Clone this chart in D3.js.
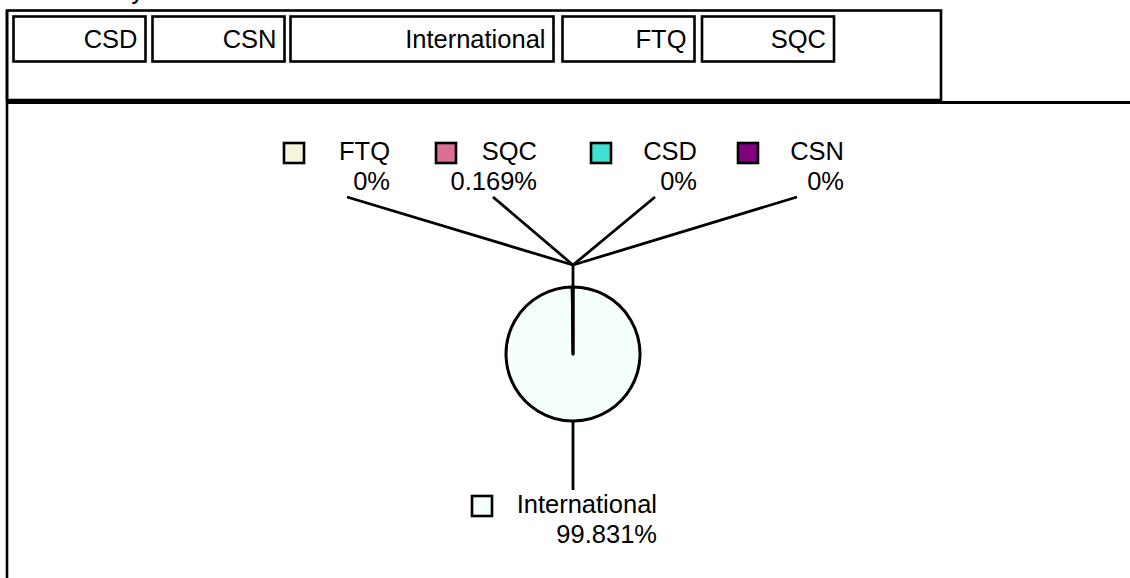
<!DOCTYPE html>
<html>
<head>
<meta charset="utf-8">
<script src="https://cdn.jsdelivr.net/npm/d3@7"></script>
<style>
  html, body { margin: 0; padding: 0; background: #fff; overflow: hidden; }
  svg { display: block; font-family: "Liberation Sans", Arial, sans-serif; }
</style>
</head>
<body>
<svg id="chart" width="1130" height="578"></svg>
<script>
// ---- data ----
const categories = ["CSD", "CSN", "International", "FTQ", "SQC"];
const values = [0, 0, 99.831, 0, 0.169];
const colors = ["#40E0D0", "#800080", "#F5FFFA", "#F5F5DC", "#DB7093"];
const percentLabels = ["0%", "0%", "99.831%", "0%", "0.169%"];
const titleText = "Summary";

// ---- layout ----
const svg = d3.select("#chart");
const W = 1130, H = 578;
const FS = 25.5;

// partial title (cut off at top, as in the reference)
svg.append("text").attr("x", 35).attr("y", -1)
  .attr("font-size", FS).attr("fill", "#000").text(titleText);

// outer legend box
svg.append("rect").attr("x", 7).attr("y", 10.5).attr("width", 934).attr("height", 89.5)
  .attr("fill", "none").attr("stroke", "#000").attr("stroke-width", 2.6);

// legend buttons
const btnWidths = { "International": 263 };
const btnX = d3.scaleOrdinal().domain(categories).range([13.5, 152.5, 290.5, 562.5, 702]);
const btns = svg.append("g").selectAll("g").data(categories).join("g")
  .attr("transform", d => `translate(${btnX(d)},16.5)`);
btns.append("rect").attr("width", d => btnWidths[d] || 132).attr("height", 45)
  .attr("fill", "#fff").attr("stroke", "#000").attr("stroke-width", 2.6);
btns.append("text").attr("x", d => (btnWidths[d] || 132) - 8).attr("y", 31.5)
  .attr("text-anchor", "end").attr("font-size", FS).attr("fill", "#000").text(d => d);

// chart panel lines
svg.append("line").attr("x1", 7).attr("x2", W).attr("y1", 102.5).attr("y2", 102.5)
  .attr("stroke", "#000").attr("stroke-width", 3);
svg.append("line").attr("x1", 7).attr("x2", 7).attr("y1", 10).attr("y2", H)
  .attr("stroke", "#000").attr("stroke-width", 2.6);

// pie
const cx = 573, cy = 354, r = 67;
const pie = d3.pie().sort(null).value(d => d.v);
const arcs = pie(categories.map((c, i) => ({ c, v: values[i], col: colors[i], lab: percentLabels[i] })));
const arc = d3.arc().innerRadius(0).outerRadius(r);
const pg = svg.append("g").attr("transform", `translate(${cx},${cy})`);
pg.selectAll("path").data(arcs.filter(a => a.data.v > 0)).join("path")
  .attr("d", arc).attr("fill", d => d.data.col)
  .attr("stroke", "#000").attr("stroke-width", 3).attr("stroke-linejoin", "round");

// leader lines & labels
const hubY = -89;
const topLabels = [
  { c: "FTQ", lineX: 347 },
  { c: "SQC", lineX: 493 },
  { c: "CSD", lineX: 655 },
  { c: "CSN", lineX: 797 }
];
const lg = svg.append("g").attr("stroke", "#000").attr("stroke-width", 2.8).attr("fill", "none");
lg.append("line").attr("x1", cx).attr("x2", cx).attr("y1", cy - r).attr("y2", cy + hubY);
topLabels.forEach(t => {
  lg.append("line").attr("x1", cx).attr("y1", cy + hubY).attr("x2", t.lineX).attr("y2", 197);
});
lg.append("line").attr("x1", cx).attr("x2", cx).attr("y1", cy + r).attr("y2", 490);

function label(cat, textRight, y1, swX, swY) {
  const i = categories.indexOf(cat);
  svg.append("rect").attr("x", swX).attr("y", swY).attr("width", 20).attr("height", 20)
    .attr("fill", colors[i]).attr("stroke", "#000").attr("stroke-width", 2.6);
  svg.append("text").attr("x", textRight).attr("y", y1).attr("text-anchor", "end")
    .attr("font-size", FS).attr("fill", "#000").text(cat);
  svg.append("text").attr("x", textRight).attr("y", y1 + 30).attr("text-anchor", "end")
    .attr("font-size", FS).attr("fill", "#000").text(percentLabels[i]);
}
label("FTQ", 390, 160, 284, 143);
label("SQC", 537, 160, 436, 143);
label("CSD", 697, 160, 591, 143);
label("CSN", 844, 160, 738, 143);
label("International", 657, 513, 472, 496);
</script>
</body>
</html>
